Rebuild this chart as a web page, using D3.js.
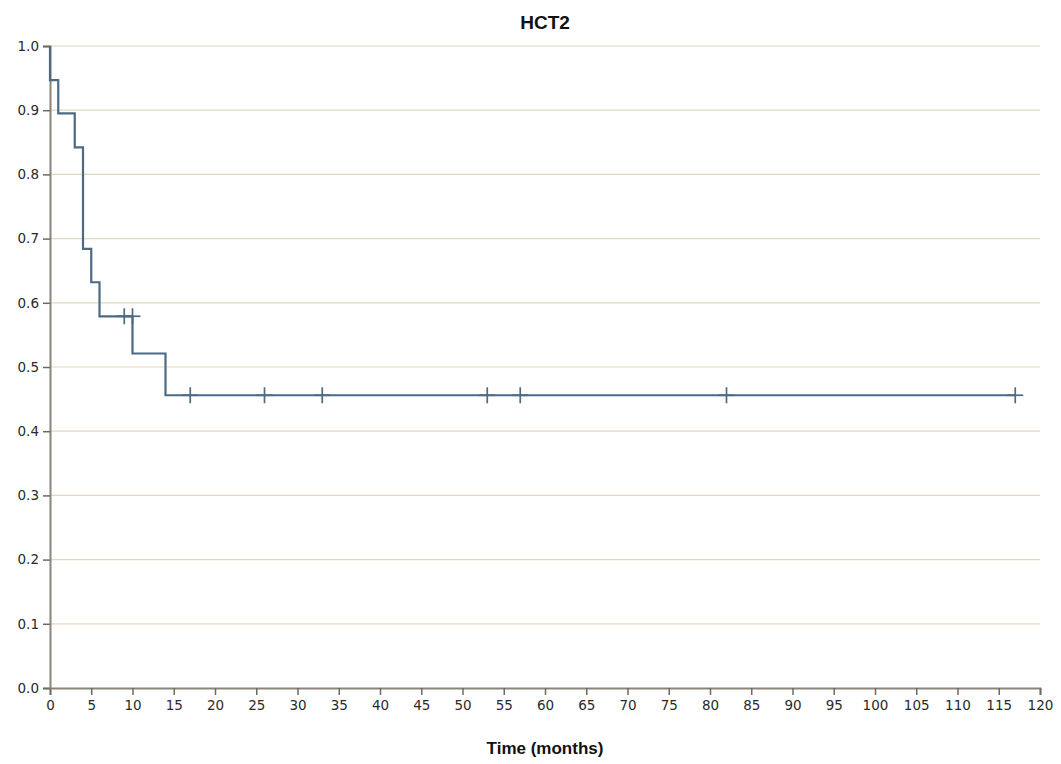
<!DOCTYPE html>
<html><head><meta charset="utf-8">
<script src="https://cdn.jsdelivr.net/npm/d3@7"></script>
<style>body{margin:0;background:#fff}</style>
</head><body>
<svg id="c" width="1061" height="764"></svg>
<script>
// Kaplan-Meier step data
const stepTimes = [0, 0, 1, 3, 4, 5, 6, 10, 14, 117];
const stepSurvival = [1.0, 0.947, 0.895, 0.842, 0.684, 0.632, 0.579, 0.521, 0.456, 0.456];
const censorTimes = [9, 10, 17, 26, 33, 53, 57, 82, 117];
const censorSurvival = [0.579, 0.579, 0.456, 0.456, 0.456, 0.456, 0.456, 0.456, 0.456];
const xTicks = d3.range(0, 121, 5);
const yTicks = [0, 0.1, 0.2, 0.3, 0.4, 0.5, 0.6, 0.7, 0.8, 0.9, 1.0];
const title = "HCT2";
const xLabel = "Time (months)";

const svg = d3.select("#c");
const m = {l: 50, r: 21, t: 46, b: 76};
const W = 1061, H = 764;
const x = d3.scaleLinear().domain([0, 120]).range([m.l, W - m.r]);
const y = d3.scaleLinear().domain([0, 1]).range([H - m.b, m.t]);

// grid
svg.append("g").selectAll("line").data(yTicks.filter(d => d > 0)).join("line")
  .attr("x1", x(0)).attr("x2", x(120))
  .attr("y1", d => y(d)).attr("y2", d => y(d))
  .attr("stroke", "#e3d7bf").attr("stroke-width", 1.2);

// axes
const xa = svg.append("g").attr("transform", `translate(0,${y(0)})`)
  .call(d3.axisBottom(x).tickValues(xTicks).tickFormat(d3.format("d")).tickSizeOuter(0).tickSize(7));
const ya = svg.append("g").attr("transform", `translate(${x(0)},0)`)
  .call(d3.axisLeft(y).tickValues(yTicks).tickFormat(d3.format(".1f")).tickSizeOuter(0).tickSize(7));
[xa, ya].forEach(a => {
  a.select(".domain").attr("stroke", "#8a847a").attr("stroke-width", 2);
  a.selectAll(".tick line").attr("stroke", "#6e6a64").attr("stroke-width", 1.5);
  a.selectAll(".tick text").attr("fill", "#2a2a2a").attr("font-family", "DejaVu Sans, Verdana, sans-serif").attr("font-size", 13.5);
});
xa.selectAll(".tick text").attr("dy", "0.9em");
ya.selectAll(".tick text").attr("dx", "-1px");

// step line
const pts = [];
for (let i = 0; i < stepTimes.length; i++) {
  if (i > 0) pts.push([stepTimes[i], stepSurvival[i - 1]]);
  pts.push([stepTimes[i], stepSurvival[i]]);
}
svg.append("path").datum(pts)
  .attr("d", d3.line().x(d => x(d[0])).y(d => y(d[1])))
  .attr("fill", "none").attr("stroke", "#4c6a84").attr("stroke-width", 2.2);

// censor marks (plus)
const cg = svg.append("g").attr("stroke", "#4c6a84").attr("stroke-width", 1.7);
censorTimes.forEach((t, i) => {
  const cx = x(t), cy = y(censorSurvival[i]);
  cg.append("line").attr("x1", cx).attr("x2", cx).attr("y1", cy - 8).attr("y2", cy + 8);
  cg.append("line").attr("x1", cx - 8).attr("x2", cx + 8).attr("y1", cy).attr("y2", cy);
});

svg.append("text").attr("x", (x(0) + x(120)) / 2).attr("y", 29).attr("text-anchor", "middle")
  .attr("font-family", "Liberation Sans, Arial, sans-serif").attr("font-weight", "bold").attr("font-size", 19)
  .attr("fill", "#111").text(title);
svg.append("text").attr("x", (x(0) + x(120)) / 2).attr("y", 754).attr("text-anchor", "middle")
  .attr("font-family", "Liberation Sans, Arial, sans-serif").attr("font-weight", "bold").attr("font-size", 17)
  .attr("fill", "#111").text(xLabel);
</script>
</body></html>
